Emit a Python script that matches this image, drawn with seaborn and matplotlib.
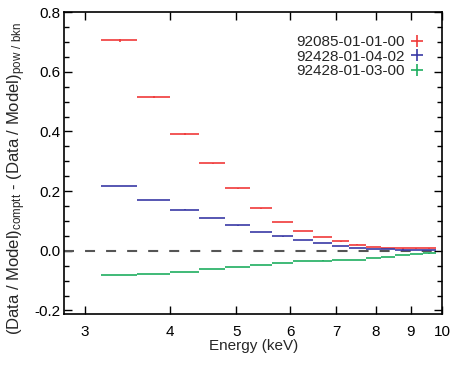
import matplotlib
matplotlib.use("Agg")
import matplotlib.pyplot as plt
import seaborn as sns
import numpy as np
import pandas as pd
from matplotlib.lines import Line2D
from matplotlib.ticker import MultipleLocator, NullLocator

# bin edges (keV)
edges = [3.17, 3.58, 4.00, 4.41, 4.82, 5.23, 5.64, 6.06, 6.48, 6.90,
         7.31, 7.73, 8.14, 8.55, 8.97, 9.38, 9.79]

obs_ids = ["92085-01-01-00", "92428-01-04-02", "92428-01-03-00"]
red_vals = [0.705, 0.515, 0.392, 0.293, 0.209, 0.142, 0.096, 0.066,
            0.046, 0.032, 0.021, 0.013, 0.009, 0.008, 0.008, 0.008]
red_err = [0.006, 0.004, 0.003, 0.002, 0.002, 0.002, 0.001, 0.001,
           0.001, 0.001, 0.001, 0.001, 0.001, 0.001, 0.001, 0.001]
blue_vals = [0.218, 0.169, 0.138, 0.111, 0.085, 0.063, 0.048, 0.035,
             0.025, 0.016, 0.010, 0.007, 0.005, 0.004, 0.003, 0.003]
green_vals = [-0.081, -0.077, -0.071, -0.062, -0.054, -0.047, -0.040, -0.035,
              -0.033, -0.032, -0.030, -0.025, -0.020, -0.014, -0.011, -0.009]

xtick_vals = [3, 4, 5, 6, 7, 8, 9, 10]
xtick_labels = ["3", "4", "5", "6", "7", "8", "9", "10"]
colors = ["#f03a3a", "#3a3aa6", "#1fae60"]

sns.set_style("ticks")
plt.rcParams["font.family"] = ["Liberation Sans", "DejaVu Sans"]
plt.rcParams["mathtext.default"] = "regular"

lo = np.array(edges[:-1])
hi = np.array(edges[1:])
df = pd.DataFrame({
    "lo": np.tile(lo, 3),
    "hi": np.tile(hi, 3),
    "val": red_vals + blue_vals + green_vals,
    "err": red_err + [0.0005] * 16 + [0.0005] * 16,
    "obs": np.repeat(obs_ids, 16),
})
df["mid"] = (df["lo"] + df["hi"]) / 2

fig = plt.figure(figsize=(4.58, 3.66), dpi=100)
ax = fig.add_axes([0.1404, 0.142, 0.8246, 0.825])

ax.axhline(0, color="#555555", lw=1.5, dashes=(4.8, 5.3), zorder=1)

for obs, col in zip(obs_ids, colors):
    d = df[df["obs"] == obs]
    ax.errorbar(d["mid"], d["val"],
                xerr=[d["mid"] - d["lo"], d["hi"] - d["mid"]],
                yerr=d["err"], fmt="none", ecolor=col, elinewidth=1.2,
                capsize=0, zorder=2)

ax.set_xscale("log")
ax.set_xlim(2.80, 10.0)
ax.set_ylim(-0.212, 0.8)
ax.set_xticks(xtick_vals, xtick_labels)
ax.xaxis.set_minor_locator(NullLocator())
ax.yaxis.set_major_locator(MultipleLocator(0.2))
ax.yaxis.set_minor_locator(MultipleLocator(0.05))
ax.set_yticks([-0.2, 0.0, 0.2, 0.4, 0.6, 0.8])
ax.set_yticklabels(["-0.2", "0.0", "0.2", "0.4", "0.6", "0.8"])

ax.tick_params(which="both", direction="in", top=True, right=True,
               labelsize=11, width=1.0, colors="black")
ax.tick_params(axis="x", which="major", pad=8)
ax.tick_params(axis="y", which="major", pad=3)
ax.tick_params(which="major", length=6)
ax.tick_params(which="minor", length=3.5)
for s in ax.spines.values():
    s.set_linewidth(1.2)
    s.set_color("black")

ax.set_xlabel("Energy (keV)", fontsize=11, labelpad=0)
ax.set_ylabel("(Data / Model)$_{comptt}$ - (Data / Model)$_{pow\\ /\\ bkn}$",
              fontsize=12)
ax.yaxis.set_label_coords(-0.097, 0.45)

handles = [Line2D([], [], ls="none", marker="+", color=c, markersize=8,
                  markeredgewidth=1.2) for c in colors]
ax.legend(handles, obs_ids, loc="upper right", frameon=False,
          markerfirst=False, fontsize=11, handlelength=0.8,
          handletextpad=0.4, labelspacing=0.05, borderaxespad=0.6,
          bbox_to_anchor=(0.99, 0.975))

fig.savefig("out.png", dpi=100)
plt.close(fig)
